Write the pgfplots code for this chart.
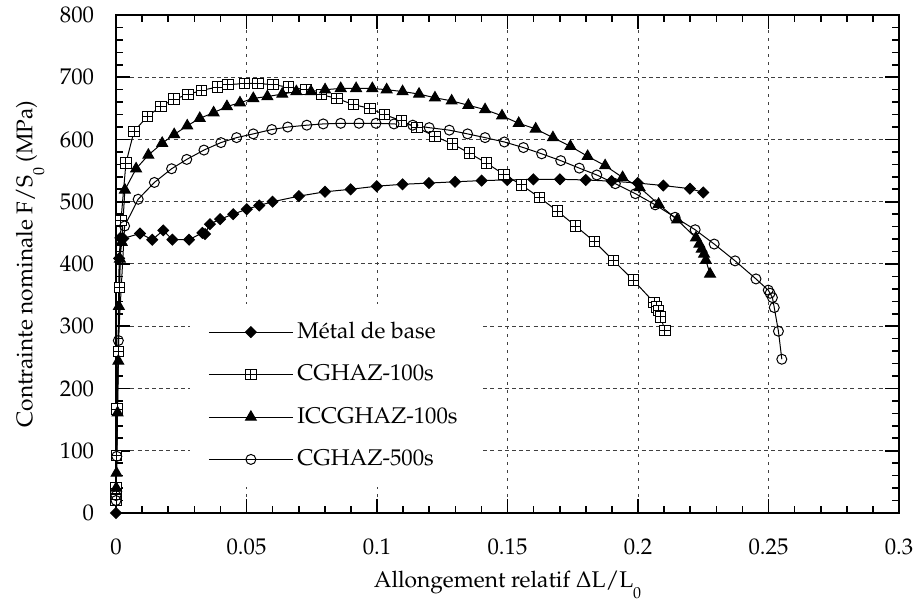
\documentclass[border=0pt]{standalone}
\usepackage[T1]{fontenc}
\usepackage{mathpazo}
\usepackage{pgfplots}
\pgfplotsset{compat=1.18}
\pgfdeclareplotmark{boxplus}{%
 \pgfpathrectangle{\pgfqpoint{-\pgfplotmarksize}{-\pgfplotmarksize}}{\pgfqpoint{2\pgfplotmarksize}{2\pgfplotmarksize}}%
 \pgfusepathqfillstroke
 \pgfpathmoveto{\pgfqpoint{-\pgfplotmarksize}{0pt}}\pgfpathlineto{\pgfqpoint{\pgfplotmarksize}{0pt}}%
 \pgfpathmoveto{\pgfqpoint{0pt}{-\pgfplotmarksize}}\pgfpathlineto{\pgfqpoint{0pt}{\pgfplotmarksize}}%
 \pgfusepathqstroke}
\pgfdeclareplotmark{sqdiamond*}{%
 \pgfpathmoveto{\pgfqpoint{0pt}{\pgfplotmarksize}}%
 \pgfpathlineto{\pgfqpoint{\pgfplotmarksize}{0pt}}%
 \pgfpathlineto{\pgfqpoint{0pt}{-\pgfplotmarksize}}%
 \pgfpathlineto{\pgfqpoint{-\pgfplotmarksize}{0pt}}%
 \pgfpathclose\pgfusepathqfillstroke}
\begin{document}
\fontsize{11.4}{13.7}\selectfont
\begin{tikzpicture}
\begin{axis}[name=ax,
  scale only axis, width=391.5bp, height=249bp,
  xmin=0, xmax=0.3, ymin=0, ymax=800,
  xtick={0,0.05,0.1,0.15,0.2,0.25,0.3},
  xticklabels={0,0.05,0.1,0.15,0.2,0.25,0.3},
  ytick={0,100,200,300,400,500,600,700,800},
  minor x tick num=4, minor y tick num=4,
  tick align=inside,
  major tick length=7bp, minor tick length=3.5bp,
  axis line style={line width=1bp},
  major tick style={line width=0.9bp, black},
  minor tick style={line width=0.8bp, black},
  grid=major,
  x grid style={dash pattern=on 1.5bp off 2.5bp, black!75, line width=0.5bp},
  y grid style={dash pattern=on 2bp off 1.6bp, black!75, line width=0.5bp},
  xticklabel style={yshift=-9bp},
  yticklabel style={xshift=-7bp},
  xlabel={Allongement relatif $\Delta$L/L\raisebox{-1.1ex}{\footnotesize 0}},
  ylabel={Contrainte nominale F/S\raisebox{-1.1ex}{\footnotesize 0} (MPa)},
  clip=false,
  legend cell align=left,
  legend image code/.code={\draw[mark repeat=2,mark phase=2] plot coordinates {(0bp,0bp) (21bp,0bp) (42bp,0bp)};},
  legend style={at={(0.0945,0.42)}, anchor=north west, draw=none, fill=white,
    inner xsep=9bp, inner ysep=7bp, row sep=7.6bp},
  every axis plot/.append style={black, line width=0.5bp, mark options={solid, line width=0.5bp}},
]
\addplot[mark=sqdiamond*, mark size=2.7bp, mark options={fill=black}] coordinates {
(0,0) (0.0012,409) (0.0017,442) (0.0028,441) (0.0092,449) (0.0139,439) (0.0181,454) (0.0216,439)
(0.0280,439) (0.0331,450) (0.0341,448) (0.0360,464) (0.0399,472) (0.0449,480) (0.0501,488)
(0.0549,494) (0.0600,500) (0.0701,509) (0.0801,516) (0.0899,520) (0.0999,525) (0.1098,528)
(0.1199,530) (0.1299,532) (0.1401,534) (0.1499,535) (0.1599,536) (0.1701,536) (0.1800,535)
(0.1899,533) (0.1999,530) (0.2097,526) (0.2199,521) (0.2250,515)};
\addlegendentry{M\'etal de base}
\addplot[mark=boxplus, mark size=2.6bp, mark options={fill=white}] coordinates {
(0,21) (0,40) (0.0002,92) (0.0004,167) (0.0009,259) (0.0014,362) (0.0019,470) (0.0038,562)
(0.0069,613) (0.0120,637) (0.0172,653) (0.0222,665) (0.0276,672) (0.0327,679) (0.0388,684)
(0.0429,688) (0.0493,690) (0.0544,690) (0.0602,688) (0.0662,684) (0.0728,680) (0.0787,672)
(0.0846,666) (0.0909,656) (0.0973,650) (0.1028,640) (0.1094,630) (0.1153,619) (0.1222,605)
(0.1289,593) (0.1354,578) (0.1420,562) (0.1486,544) (0.1553,527) (0.1622,507) (0.1691,485)
(0.1761,461) (0.1833,436) (0.1905,406) (0.1982,374) (0.2062,338) (0.2071,331) (0.2079,325)
(0.2087,315) (0.2103,293)};
\addlegendentry{CGHAZ-100s}
\addplot[mark=triangle*, mark size=3.1bp, mark options={fill=black}] coordinates {
(0.0001,40) (0.0002,64) (0.0006,161) (0.0009,244) (0.0011,332) (0.0015,408) (0.0022,435)
(0.0034,519) (0.0077,553) (0.0124,575) (0.0177,594) (0.0223,608) (0.0273,622) (0.0321,634)
(0.0374,643) (0.0425,653) (0.0475,659) (0.0526,666) (0.0580,669) (0.0637,673) (0.0691,677)
(0.0747,677) (0.0801,680) (0.0861,682) (0.0920,682) (0.0982,682) (0.1037,680) (0.1098,677)
(0.1161,673) (0.1222,667) (0.1286,662) (0.1350,655) (0.1414,648) (0.1479,638) (0.1543,626)
(0.1608,617) (0.1674,603) (0.1741,589) (0.1807,573) (0.1874,558) (0.1941,539) (0.2006,523)
(0.2079,496) (0.2150,471) (0.2222,442) (0.2235,432) (0.2244,424) (0.2253,416) (0.2260,406)
(0.2276,384)};
\addlegendentry{ICCGHAZ-100s}
\addplot[mark=o, mark size=2.5bp, mark options={fill=white}] coordinates {
(0,20) (0,28) (0.0003,91) (0.0009,277) (0.0033,461) (0.0085,504) (0.0147,531) (0.0213,553)
(0.0271,568) (0.0337,583) (0.0402,595) (0.0462,603) (0.0526,609) (0.0597,616) (0.0658,620)
(0.0731,623) (0.0794,625) (0.0861,626) (0.0931,626) (0.0996,626) (0.1065,625) (0.1137,623)
(0.1200,619) (0.1277,615) (0.1347,609) (0.1414,603) (0.1488,596) (0.1561,587) (0.1631,577)
(0.1704,566) (0.1775,554) (0.1842,543) (0.1913,529) (0.1990,513) (0.2066,495) (0.2142,475)
(0.2219,455) (0.2292,432) (0.2372,405) (0.2452,376) (0.2499,358) (0.2506,353) (0.2515,346)
(0.2522,330) (0.2538,292) (0.2551,247)};
\addlegendentry{CGHAZ-500s}
\end{axis}
\pgfresetboundingbox
\path ([xshift=-58bp,yshift=-44.5bp]ax.south west) rectangle ([xshift=9bp,yshift=7.5bp]ax.north east);
\end{tikzpicture}
\end{document}
